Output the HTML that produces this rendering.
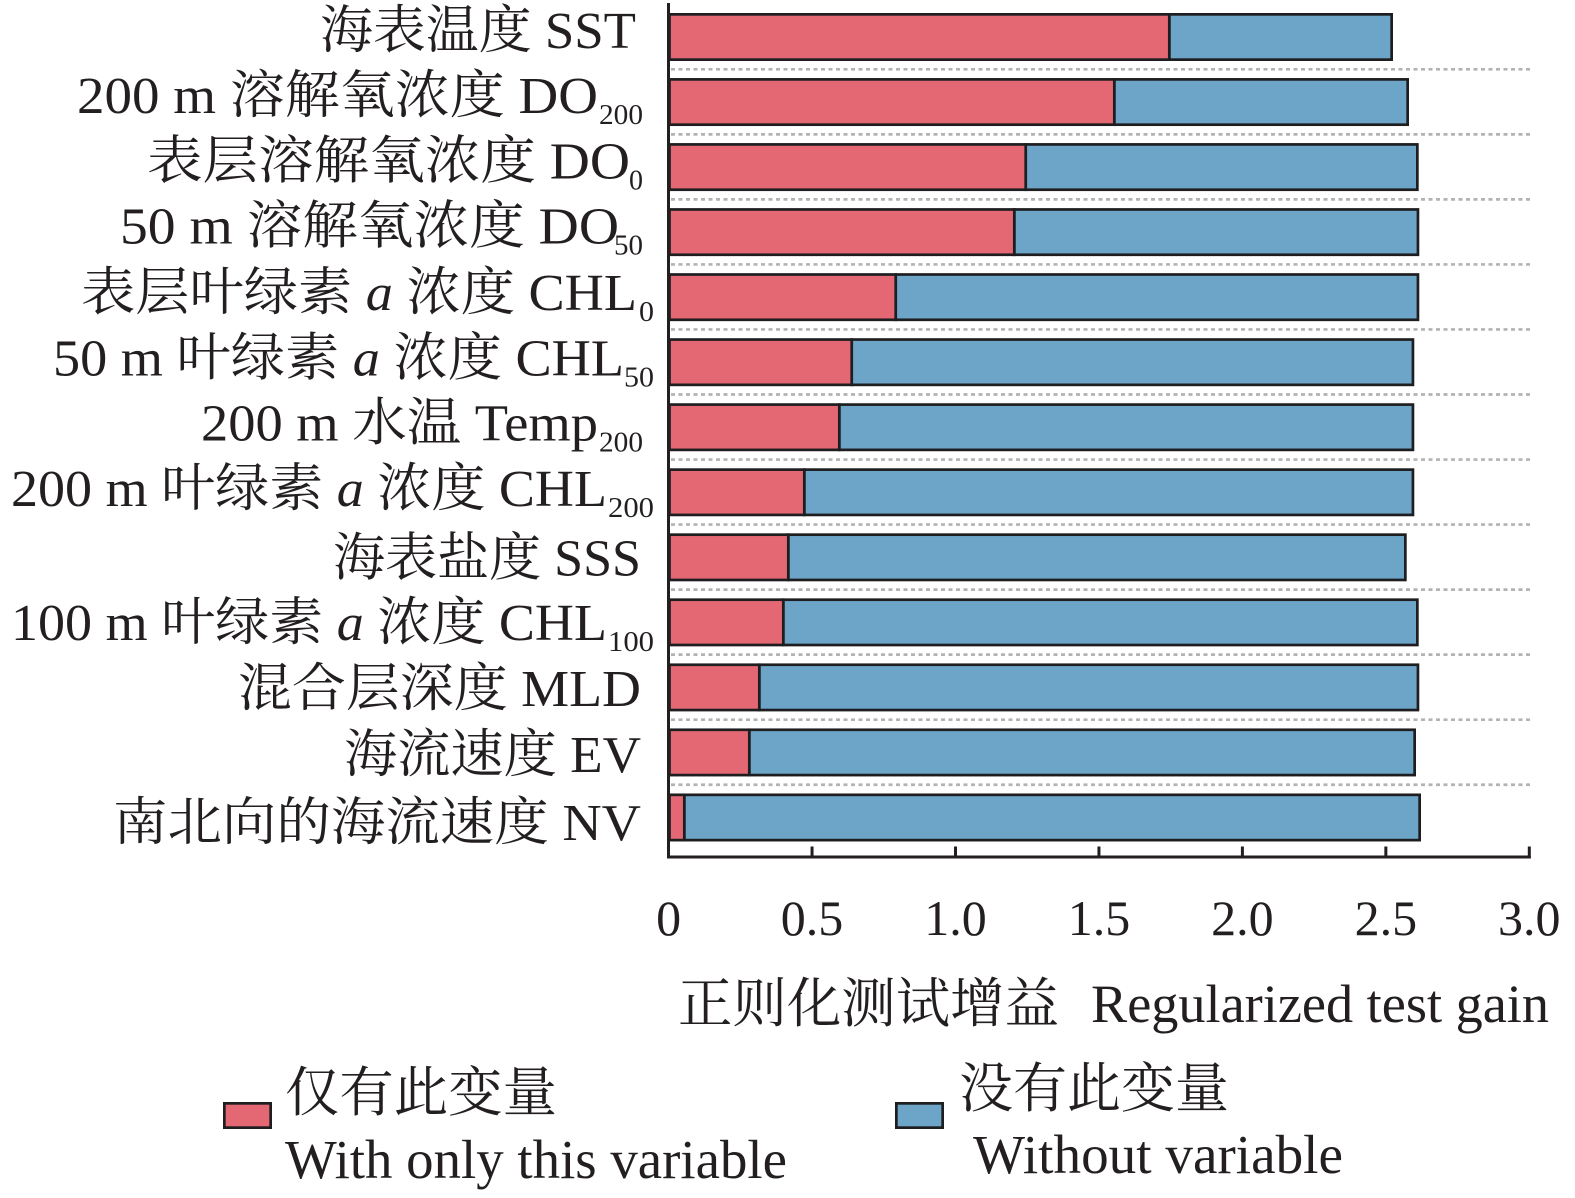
<!DOCTYPE html>
<html>
<head>
<meta charset="utf-8">
<style>
  html,body{margin:0;padding:0;background:#fff;}
  svg{display:block;}
  text{font-family:"Liberation Serif","Noto Serif CJK SC",serif;fill:#231f20;}
</style>
</head>
<body>
<svg width="1575" height="1198" viewBox="0 0 1575 1198" xmlns="http://www.w3.org/2000/svg">
  <rect x="0" y="0" width="1575" height="1198" fill="#fff"/>

  <!-- dotted separators -->
  <g stroke="#b3b3b3" stroke-width="2.7" stroke-dasharray="4 3.5" fill="none">
    <line x1="671" y1="69.3" x2="1530" y2="69.3"/>
    <line x1="671" y1="134.34" x2="1530" y2="134.34"/>
    <line x1="671" y1="199.38" x2="1530" y2="199.38"/>
    <line x1="671" y1="264.42" x2="1530" y2="264.42"/>
    <line x1="671" y1="329.46" x2="1530" y2="329.46"/>
    <line x1="671" y1="394.5" x2="1530" y2="394.5"/>
    <line x1="671" y1="459.54" x2="1530" y2="459.54"/>
    <line x1="671" y1="524.58" x2="1530" y2="524.58"/>
    <line x1="671" y1="589.62" x2="1530" y2="589.62"/>
    <line x1="671" y1="654.66" x2="1530" y2="654.66"/>
    <line x1="671" y1="719.7" x2="1530" y2="719.7"/>
    <line x1="671" y1="784.74" x2="1530" y2="784.74"/>
  </g>

  <!-- bars -->
  <g stroke="#1e1e21" stroke-width="2.7">
    <rect x="1169.3" y="14.35" width="222.35" height="45.3" fill="#6ca5c8"/>
    <rect x="669.5" y="14.35" width="499.8" height="45.3" fill="#e36873"/>

    <rect x="1114.3" y="79.39" width="293.35" height="45.3" fill="#6ca5c8"/>
    <rect x="669.5" y="79.39" width="444.8" height="45.3" fill="#e36873"/>

    <rect x="1025.7" y="144.43" width="391.65" height="45.3" fill="#6ca5c8"/>
    <rect x="669.5" y="144.43" width="356.2" height="45.3" fill="#e36873"/>

    <rect x="1014.3" y="209.47" width="403.65" height="45.3" fill="#6ca5c8"/>
    <rect x="669.5" y="209.47" width="344.8" height="45.3" fill="#e36873"/>

    <rect x="895.7" y="274.51" width="522.25" height="45.3" fill="#6ca5c8"/>
    <rect x="669.5" y="274.51" width="226.2" height="45.3" fill="#e36873"/>

    <rect x="851.7" y="339.55" width="561.25" height="45.3" fill="#6ca5c8"/>
    <rect x="669.5" y="339.55" width="182.2" height="45.3" fill="#e36873"/>

    <rect x="839.3" y="404.59" width="573.65" height="45.3" fill="#6ca5c8"/>
    <rect x="669.5" y="404.59" width="169.8" height="45.3" fill="#e36873"/>

    <rect x="804.3" y="469.63" width="608.65" height="45.3" fill="#6ca5c8"/>
    <rect x="669.5" y="469.63" width="134.8" height="45.3" fill="#e36873"/>

    <rect x="788.3" y="534.67" width="617.05" height="45.3" fill="#6ca5c8"/>
    <rect x="669.5" y="534.67" width="118.8" height="45.3" fill="#e36873"/>

    <rect x="783.3" y="599.71" width="634.05" height="45.3" fill="#6ca5c8"/>
    <rect x="669.5" y="599.71" width="113.8" height="45.3" fill="#e36873"/>

    <rect x="759.3" y="664.75" width="658.65" height="45.3" fill="#6ca5c8"/>
    <rect x="669.5" y="664.75" width="89.8" height="45.3" fill="#e36873"/>

    <rect x="749.3" y="729.79" width="665.35" height="45.3" fill="#6ca5c8"/>
    <rect x="669.5" y="729.79" width="79.8" height="45.3" fill="#e36873"/>

    <rect x="684.3" y="794.83" width="735.35" height="45.3" fill="#6ca5c8"/>
    <rect x="669.5" y="794.83" width="14.8" height="45.3" fill="#e36873"/>
  </g>

  <!-- axes -->
  <g stroke="#231f20" stroke-width="3" fill="none">
    <line x1="668.5" y1="3" x2="668.5" y2="858.5"/>
    <line x1="667" y1="857" x2="1530.8" y2="857"/>
    <line x1="812.05" y1="846.5" x2="812.05" y2="857"/>
    <line x1="955.5" y1="846.5" x2="955.5" y2="857"/>
    <line x1="1098.95" y1="846.5" x2="1098.95" y2="857"/>
    <line x1="1242.4" y1="846.5" x2="1242.4" y2="857"/>
    <line x1="1385.85" y1="846.5" x2="1385.85" y2="857"/>
    <line x1="1529.3" y1="846.5" x2="1529.3" y2="858.5"/>
  </g>

  <!-- tick labels -->
  <g font-size="50" text-anchor="middle">
    <text x="668.6" y="935">0</text>
    <text x="812.05" y="935">0.5</text>
    <text x="955.5" y="935">1.0</text>
    <text x="1098.95" y="935">1.5</text>
    <text x="1242.4" y="935">2.0</text>
    <text x="1385.85" y="935">2.5</text>
    <text x="1529.3" y="935">3.0</text>
  </g>

  <!-- y labels -->
  <g font-size="52" text-anchor="end">
    <text x="636" y="48" textLength="316" lengthAdjust="spacingAndGlyphs">海表温度 SST</text>

    <text x="598" y="113.2" textLength="521" lengthAdjust="spacingAndGlyphs">200 m 溶解氧浓度 DO</text>
    <text x="630" y="178.4" textLength="483" lengthAdjust="spacingAndGlyphs">表层溶解氧浓度 DO</text>
    <text x="619" y="243.6" textLength="499" lengthAdjust="spacingAndGlyphs">50 m 溶解氧浓度 DO</text>
    <text x="637" y="309.8" textLength="556" lengthAdjust="spacingAndGlyphs">表层叶绿素 <tspan font-style="italic">a</tspan> 浓度 CHL</text>
    <text x="624" y="375.5" textLength="571" lengthAdjust="spacingAndGlyphs">50 m 叶绿素 <tspan font-style="italic">a</tspan> 浓度 CHL</text>
    <text x="598" y="440.5" textLength="397" lengthAdjust="spacingAndGlyphs">200 m 水温 Temp</text>
    <text x="607" y="506" textLength="596" lengthAdjust="spacingAndGlyphs">200 m 叶绿素 <tspan font-style="italic">a</tspan> 浓度 CHL</text>
    <text x="641" y="575.5" textLength="308" lengthAdjust="spacingAndGlyphs">海表盐度 SSS</text>
    <text x="607" y="640" textLength="596" lengthAdjust="spacingAndGlyphs">100 m 叶绿素 <tspan font-style="italic">a</tspan> 浓度 CHL</text>
    <text x="641" y="706" textLength="403" lengthAdjust="spacingAndGlyphs">混合层深度 MLD</text>
    <text x="641" y="772" textLength="297" lengthAdjust="spacingAndGlyphs">海流速度 EV</text>
    <text x="641" y="840" textLength="528" lengthAdjust="spacingAndGlyphs">南北向的海流速度 NV</text>
  </g>

  <!-- subscripts -->
  <g font-size="29">
    <text x="599" y="124.2" textLength="44" lengthAdjust="spacingAndGlyphs">200</text>
    <text x="629" y="189.4" textLength="14" lengthAdjust="spacingAndGlyphs">0</text>
    <text x="614" y="254.6" textLength="29" lengthAdjust="spacingAndGlyphs">50</text>
    <text x="639" y="320.8" textLength="15" lengthAdjust="spacingAndGlyphs">0</text>
    <text x="624" y="386.5" textLength="30" lengthAdjust="spacingAndGlyphs">50</text>
    <text x="599" y="451.5" textLength="44" lengthAdjust="spacingAndGlyphs">200</text>
    <text x="608" y="517" textLength="46" lengthAdjust="spacingAndGlyphs">200</text>
    <text x="608" y="651" textLength="46" lengthAdjust="spacingAndGlyphs">100</text>
  </g>

  <!-- x axis title -->
  <text x="678" y="1022" font-size="54" textLength="381" lengthAdjust="spacingAndGlyphs">正则化测试增益</text>
  <text x="1091" y="1022" font-size="54" textLength="458" lengthAdjust="spacingAndGlyphs">Regularized test gain</text>

  <!-- legend -->
  <rect x="224.35" y="1103.35" width="46.3" height="24.3" fill="#e36873" stroke="#1e1e21" stroke-width="2.7"/>
  <text x="285" y="1111" font-size="54" textLength="272" lengthAdjust="spacingAndGlyphs">仅有此变量</text>
  <text x="285" y="1178" font-size="55" textLength="502" lengthAdjust="spacingAndGlyphs">With only this variable</text>

  <rect x="896.35" y="1103.35" width="46.3" height="24.3" fill="#6ca5c8" stroke="#1e1e21" stroke-width="2.7"/>
  <text x="959" y="1107" font-size="54" textLength="270" lengthAdjust="spacingAndGlyphs">没有此变量</text>
  <text x="973" y="1173" font-size="55" textLength="370" lengthAdjust="spacingAndGlyphs">Without variable</text>
</svg>
</body>
</html>
